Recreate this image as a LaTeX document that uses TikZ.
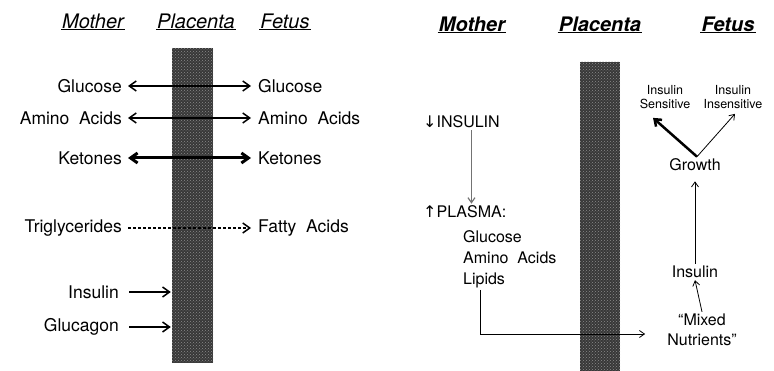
\documentclass[tikz,border=0pt]{standalone}
\usepackage{fontspec}
\setmainfont{TeX Gyre Heros}
\newfontfamily\symfont{DejaVu Sans}
\usetikzlibrary{arrows.meta,calc,patterns}

\begin{document}
\begin{tikzpicture}[x=1pt, y=-1pt,
        >={Straight Barb[length=7pt,width=10pt]},
        txt/.style={inner sep=2pt, font=\fontsize{16}{20}\selectfont},
        big/.style={txt, font=\fontsize{17.5}{21}\selectfont},
        small/.style={inner sep=1pt, align=center, font=\fontsize{12.5}{14}\selectfont},
        hdr/.style={inner sep=1pt, font=\fontsize{20}{24}\selectfont\itshape},
        hdrb/.style={hdr, font=\fontsize{20}{24}\selectfont\bfseries\itshape},
        bar/.style={draw=none, minimum width=41pt, inner sep=0pt,
            preaction={fill=black!78}, pattern=crosshatch dots, pattern color=black!45},
        flow/.style={->, line width=1.5pt, shorten <=4pt, shorten >=5pt},
        thin/.style={->, line width=0.8pt, >={Straight Barb[length=5pt,width=7pt]}}]

        \useasboundingbox (0,0) rectangle (774,371);

        % -----------------------
        % 1. Left panel: headers and placenta
        % -----------------------
        \node[hdr] (hMotherL) at (93,21) {Mother};
        \node[hdr] (hPlacentaL) at (196,21) {Placenta};
        \node[hdr] (hFetusL) at (285,21) {Fetus};
        \foreach \h in {hMotherL, hPlacentaL, hFetusL}
            \draw[line width=1pt] (\h.south west) -- (\h.south east);

        \node[bar, minimum height=315pt] (barL) at (192.5,205.5) {};

        % -----------------------
        % 2. Left panel: substrates
        % -----------------------
        \node[big, anchor=east] (glucM) at (124,86) {Glucose};
        \node[big, anchor=west] (glucF) at (256,86) {Glucose};
        \node[big, anchor=east] (aminoM) at (124,118) {Amino\ \ Acids};
        \node[big, anchor=west] (aminoF) at (256,118) {Amino\ \ Acids};
        \node[big, anchor=east] (ketM) at (124,158) {Ketones};
        \node[big, anchor=west] (ketF) at (256,158) {Ketones};
        \node[big, anchor=east] (trigM) at (124,228) {Triglycerides};
        \node[big, anchor=west] (fattyF) at (256,228) {Fatty\ \ Acids};
        \node[big, anchor=east] (insM) at (121,292) {Insulin};
        \node[big, anchor=east] (glucaM) at (121,327) {Glucagon};

        \draw[flow, <->] (glucM.east) -- (glucF.west);
        \draw[flow, <->] (aminoM.east) -- (aminoF.west);
        \draw[<->, line width=3pt, shorten <=4pt, shorten >=5pt] (ketM.east) -- (ketF.west);
        \draw[flow, densely dashed] (trigM.east) -- (fattyF.west);
        \draw[flow, shorten <=8pt, shorten >=1pt] (insM.east) -- (insM.east -| barL.west);
        \draw[flow, shorten <=8pt, shorten >=1pt] (glucaM.east) -- (glucaM.east -| barL.west);

        % -----------------------
        % 3. Right panel: headers and placenta
        % -----------------------
        \node[hdrb] (hMotherR) at (472,24) {Mother};
        \node[hdrb] (hPlacentaR) at (600,24) {Placenta};
        \node[hdrb] (hFetusR) at (728,24) {Fetus};
        \foreach \h in {hMotherR, hPlacentaR, hFetusR}
            \draw[line width=1pt] (\h.south west) -- (\h.south east);

        \node[bar, minimum width=40pt, minimum height=310pt] (barR) at (600,217) {};

        % -----------------------
        % 4. Right panel: mother side
        % -----------------------
        \node[txt, anchor=west] (insR) at (421,122) {{\symfont ↓}INSULIN};
        \node[txt, anchor=west] (plasma) at (421,212) {{\symfont ↑}PLASMA:};
        \node[txt, anchor=west] (glucR) at (461,237) {Glucose};
        \node[txt, anchor=west] (aminoR) at (461,258) {Amino\ \ Acids};
        \node[txt, anchor=west] (lipR) at (461,280) {Lipids};

        \draw[thin, black!55, line width=1.2pt] ([xshift=10pt]insR.south) -- ([xshift=10pt]insR.south |- plasma.north);

        % -----------------------
        % 5. Right panel: fetus side
        % -----------------------
        \node[txt, align=center] (mixed) at (702,330) {``Mixed\\Nutrients''};
        \node[txt] (insF) at (695,272) {Insulin};
        \node[txt] (growth) at (695,165) {Growth};
        \node[small] (sens) at (665,97) {Insulin\\Sensitive};
        \node[small] (insens) at (733,97) {Insulin\\Insensitive};

        \draw[thin] ($(lipR.south)+(-4,0)$) |- ($(mixed.west)+(-20,4)$);
        \draw[thin] (mixed.north) -- (insF.south);
        \draw[thin] (insF.north) -- ([yshift=-8pt]growth.south);
        \draw[->, line width=2.5pt, >={Straight Barb[length=6pt,width=9pt]}]
            ([xshift=2pt]growth.north) -- ($(sens.south)+(-12,8)$);
        \draw[thin] ([xshift=2pt]growth.north) -- ($(insens.south)+(2,4)$);

    \end{tikzpicture}
\end{document}
